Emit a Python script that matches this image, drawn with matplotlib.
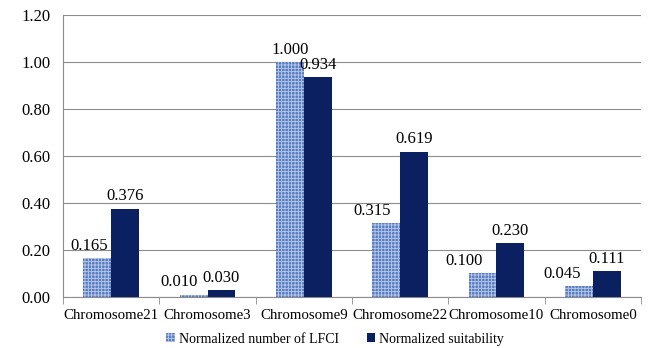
import matplotlib
matplotlib.use("Agg")
import matplotlib.pyplot as plt
import numpy as np

categories = ["Chromosome21", "Chromosome3", "Chromosome9", "Chromosome22", "Chromosome10", "Chromosome0"]
lfci = [0.165, 0.010, 1.000, 0.315, 0.100, 0.045]
suit = [0.376, 0.030, 0.934, 0.619, 0.230, 0.111]
labels = ["Normalized number of LFCI", "Normalized suitability"]

# horizontal label nudges (pixels) for the LFCI value labels, as in the reference
lfci_label_shift = [-8, -14, 0, -14, -18, -17]

plt.rcParams['font.family'] = ['Liberation Serif', 'DejaVu Serif']
plt.rcParams['hatch.linewidth'] = 0.6

fig = plt.figure(figsize=(6.51, 3.48), dpi=100)
ax = fig.add_axes([0.0968, 0.1466, 0.8878, 0.8104])

x = np.arange(len(categories))
w = 0.29
ax.bar(x - w/2, lfci, w, facecolor='#5a7cc0', edgecolor='#b9cbea', hatch='+++++', linewidth=0, label=labels[0], zorder=3)
ax.bar(x + w/2, suit, w, color='#0b2060', label=labels[1], zorder=3)

for xi, v, dx in zip(x - w/2, lfci, lfci_label_shift):
    ax.annotate(f"{v:.3f}", (xi, v), xytext=(dx * 0.72, 3), textcoords='offset points',
                ha='center', va='bottom', fontsize=12)
for xi, v in zip(x + w/2, suit):
    ax.annotate(f"{v:.3f}", (xi, v), xytext=(0, 3), textcoords='offset points',
                ha='center', va='bottom', fontsize=12)

ax.set_xlim(-0.5, len(categories) - 0.5)
ax.set_ylim(0, 1.2)
yt = np.arange(0, 1.21, 0.2)
ax.set_yticks(yt)
ax.set_yticklabels([f"{v:.2f}" for v in yt], fontsize=12)
ax.yaxis.grid(True, color='#8c8c8c', linewidth=0.8, zorder=0)
ax.set_axisbelow(True)
ax.tick_params(axis='y', length=0, pad=9)

ax.set_xticks(x)
ax.set_xticklabels(categories, fontsize=10.7)
ax.tick_params(axis='x', length=0, pad=9)
ax.set_xticks(np.arange(-0.5, len(categories), 1.0), minor=True)
ax.tick_params(axis='x', which='minor', length=5, color='#8c8c8c')

for s in ['top', 'right']:
    ax.spines[s].set_visible(False)
ax.spines['left'].set_color('#8c8c8c')
ax.spines['bottom'].set_color('#8c8c8c')

fig.legend(*ax.get_legend_handles_labels(), loc='center', bbox_to_anchor=(0.515, 0.025), ncol=2, frameon=False,
           fontsize=10, handlelength=0.6, handleheight=0.6, handletextpad=0.3, columnspacing=2.0,
           borderpad=0, borderaxespad=0)

fig.savefig("out.png", dpi=100)
